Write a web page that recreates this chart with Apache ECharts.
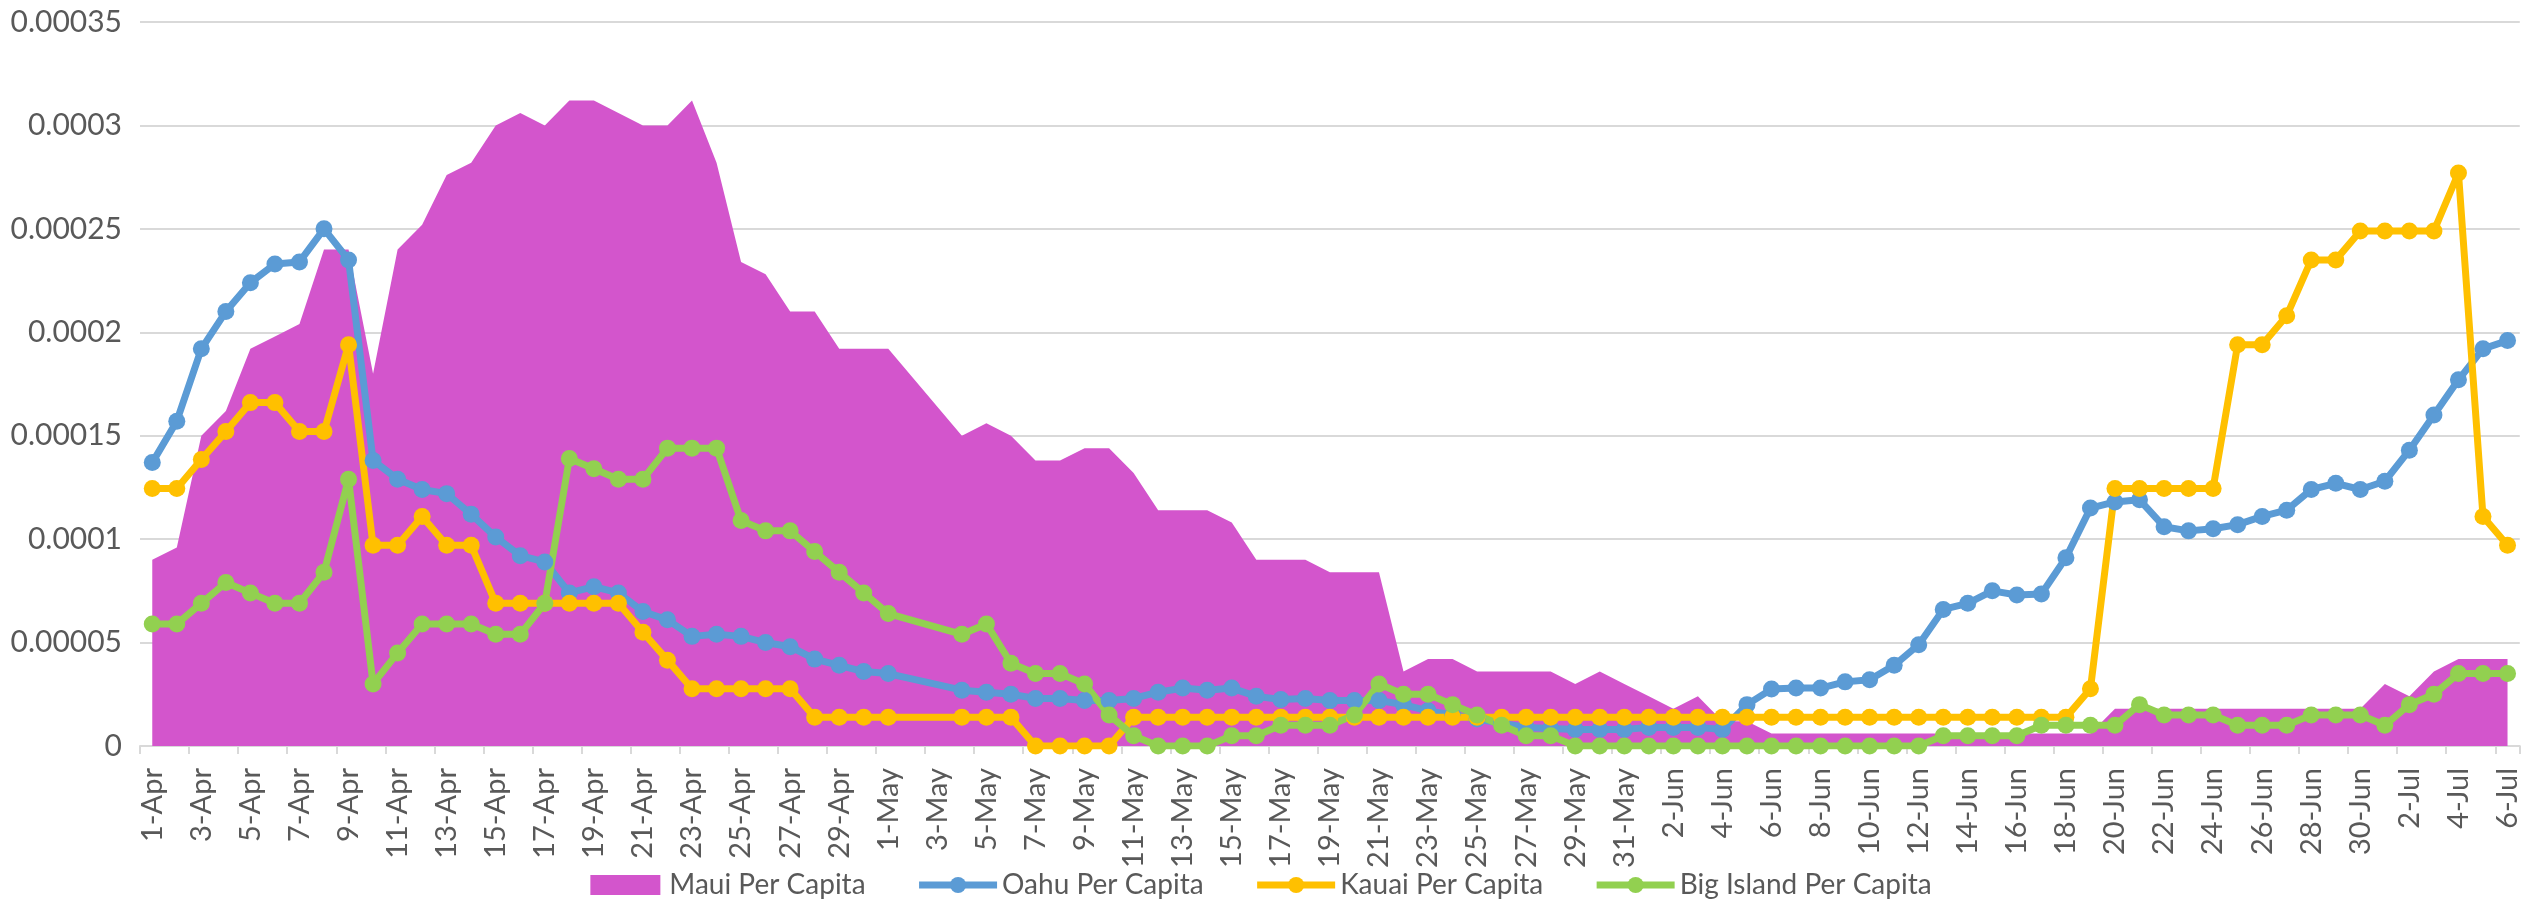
<!DOCTYPE html>
<html><head><meta charset="utf-8">
<script src="https://cdn.jsdelivr.net/npm/echarts@6/dist/echarts.min.js"></script>
<style>html,body{margin:0;padding:0;background:#fff}#c{width:2522px;height:900px}</style>
</head><body><div id="c"></div><script>
const categories = [
'1-Apr','2-Apr','3-Apr','4-Apr','5-Apr','6-Apr','7-Apr','8-Apr','9-Apr','10-Apr',
'11-Apr','12-Apr','13-Apr','14-Apr','15-Apr','16-Apr','17-Apr','18-Apr','19-Apr','20-Apr',
'21-Apr','22-Apr','23-Apr','24-Apr','25-Apr','26-Apr','27-Apr','28-Apr','29-Apr','30-Apr',
'1-May','2-May','3-May','4-May','5-May','6-May','7-May','8-May','9-May','10-May',
'11-May','12-May','13-May','14-May','15-May','16-May','17-May','18-May','19-May','20-May',
'21-May','22-May','23-May','24-May','25-May','26-May','27-May','28-May','29-May','30-May',
'31-May','1-Jun','2-Jun','3-Jun','4-Jun','5-Jun','6-Jun','7-Jun','8-Jun','9-Jun',
'10-Jun','11-Jun','12-Jun','13-Jun','14-Jun','15-Jun','16-Jun','17-Jun','18-Jun','19-Jun',
'20-Jun','21-Jun','22-Jun','23-Jun','24-Jun','25-Jun','26-Jun','27-Jun','28-Jun','29-Jun',
'30-Jun','1-Jul','2-Jul','3-Jul','4-Jul','5-Jul','6-Jul'
];
const yTickLabels = ['0','0.00005','0.0001','0.00015','0.0002','0.00025','0.0003','0.00035'];
const seriesNames = ['Maui Per Capita','Oahu Per Capita','Kauai Per Capita','Big Island Per Capita'];

const mauiPerCapita = [
9.0e-5,9.6e-5,15.0e-5,16.2e-5,19.2e-5,19.8e-5,20.4e-5,24.0e-5,24.0e-5,18.0e-5,
24.0e-5,25.2e-5,27.6e-5,28.2e-5,30.0e-5,30.6e-5,30.0e-5,31.2e-5,31.2e-5,30.6e-5,
30.0e-5,30.0e-5,31.2e-5,28.2e-5,23.4e-5,22.8e-5,21.0e-5,21.0e-5,19.2e-5,19.2e-5,
19.2e-5,null,null,15.0e-5,15.6e-5,15.0e-5,13.8e-5,13.8e-5,14.4e-5,14.4e-5,
13.2e-5,11.4e-5,11.4e-5,11.4e-5,10.8e-5,9.0e-5,9.0e-5,9.0e-5,8.4e-5,8.4e-5,
8.4e-5,3.6e-5,4.2e-5,4.2e-5,3.6e-5,3.6e-5,3.6e-5,3.6e-5,3.0e-5,3.6e-5,
3.0e-5,2.4e-5,1.8e-5,2.4e-5,1.2e-5,1.2e-5,0.6e-5,0.6e-5,0.6e-5,0.6e-5,
0.6e-5,0.6e-5,0.6e-5,0.6e-5,0.6e-5,0.6e-5,0.6e-5,0.6e-5,0.6e-5,0.6e-5,
1.8e-5,1.8e-5,1.8e-5,1.8e-5,1.8e-5,1.8e-5,1.8e-5,1.8e-5,1.8e-5,1.8e-5,
1.8e-5,3.0e-5,2.4e-5,3.6e-5,4.2e-5,4.2e-5,4.2e-5
];
const oahuPerCapita = [
13.7e-5,15.7e-5,19.2e-5,21.0e-5,22.4e-5,23.3e-5,23.4e-5,25.0e-5,23.5e-5,13.8e-5,
12.9e-5,12.4e-5,12.2e-5,11.2e-5,10.1e-5,9.2e-5,8.9e-5,7.4e-5,7.7e-5,7.4e-5,
6.5e-5,6.1e-5,5.3e-5,5.4e-5,5.3e-5,5.0e-5,4.8e-5,4.2e-5,3.9e-5,3.6e-5,
3.5e-5,null,null,2.7e-5,2.6e-5,2.5e-5,2.3e-5,2.3e-5,2.2e-5,2.2e-5,
2.3e-5,2.6e-5,2.8e-5,2.7e-5,2.8e-5,2.4e-5,2.25e-5,2.3e-5,2.2e-5,2.2e-5,
2.2e-5,2.0e-5,1.7e-5,1.5e-5,1.3e-5,1.1e-5,0.9e-5,0.85e-5,0.8e-5,0.8e-5,
0.8e-5,0.9e-5,0.9e-5,0.9e-5,0.8e-5,2.0e-5,2.75e-5,2.8e-5,2.8e-5,3.1e-5,
3.2e-5,3.9e-5,4.9e-5,6.6e-5,6.9e-5,7.5e-5,7.3e-5,7.35e-5,9.1e-5,11.5e-5,
11.8e-5,11.9e-5,10.6e-5,10.4e-5,10.5e-5,10.7e-5,11.1e-5,11.4e-5,12.4e-5,12.7e-5,
12.4e-5,12.8e-5,14.3e-5,16.0e-5,17.7e-5,19.2e-5,19.6e-5
];
const kauaiPerCapita = [
12.45e-5,12.45e-5,13.85e-5,15.2e-5,16.6e-5,16.6e-5,15.2e-5,15.2e-5,19.4e-5,9.7e-5,
9.7e-5,11.1e-5,9.7e-5,9.7e-5,6.9e-5,6.9e-5,6.9e-5,6.9e-5,6.9e-5,6.9e-5,
5.5e-5,4.15e-5,2.77e-5,2.77e-5,2.77e-5,2.77e-5,2.77e-5,1.385e-5,1.385e-5,1.385e-5,
1.385e-5,null,null,1.385e-5,1.385e-5,1.385e-5,0,0,0,0,
1.385e-5,1.385e-5,1.385e-5,1.385e-5,1.385e-5,1.385e-5,1.385e-5,1.385e-5,1.385e-5,1.385e-5,
1.385e-5,1.385e-5,1.385e-5,1.385e-5,1.385e-5,1.385e-5,1.385e-5,1.385e-5,1.385e-5,1.385e-5,
1.385e-5,1.385e-5,1.385e-5,1.385e-5,1.385e-5,1.385e-5,1.385e-5,1.385e-5,1.385e-5,1.385e-5,
1.385e-5,1.385e-5,1.385e-5,1.385e-5,1.385e-5,1.385e-5,1.385e-5,1.385e-5,1.385e-5,2.77e-5,
12.45e-5,12.45e-5,12.45e-5,12.45e-5,12.45e-5,19.4e-5,19.4e-5,20.8e-5,23.5e-5,23.5e-5,
24.9e-5,24.9e-5,24.9e-5,24.9e-5,27.7e-5,11.1e-5,9.7e-5
];
const bigIslandPerCapita = [
5.9e-5,5.9e-5,6.9e-5,7.9e-5,7.4e-5,6.9e-5,6.9e-5,8.4e-5,12.9e-5,3.0e-5,
4.5e-5,5.9e-5,5.9e-5,5.9e-5,5.4e-5,5.4e-5,6.9e-5,13.9e-5,13.4e-5,12.9e-5,
12.9e-5,14.4e-5,14.4e-5,14.4e-5,10.9e-5,10.4e-5,10.4e-5,9.4e-5,8.4e-5,7.4e-5,
6.4e-5,null,null,5.4e-5,5.9e-5,4.0e-5,3.5e-5,3.5e-5,3.0e-5,1.5e-5,
0.5e-5,0,0,0,0.5e-5,0.5e-5,1.0e-5,1.0e-5,1.0e-5,1.5e-5,
3.0e-5,2.5e-5,2.5e-5,2.0e-5,1.5e-5,1.0e-5,0.5e-5,0.5e-5,0,0,
0,0,0,0,0,0,0,0,0,0,
0,0,0,0.5e-5,0.5e-5,0.5e-5,0.5e-5,1.0e-5,1.0e-5,1.0e-5,
1.0e-5,2.0e-5,1.5e-5,1.5e-5,1.5e-5,1.0e-5,1.0e-5,1.0e-5,1.5e-5,1.5e-5,
1.5e-5,1.0e-5,2.0e-5,2.5e-5,3.5e-5,3.5e-5,3.5e-5
];

const FONT = 'Lato, "Open Sans", sans-serif';
const TXT = '#595959';
const GRID = '#D9D9D9';
const C_MAUI = '#D355CC', C_OAHU = '#5B9BD5', C_KAUAI = '#FFC000', C_BIG = '#92D050';

function lineSeries(name, data, color) {
  return {
    name, type: 'line', data, connectNulls: true,
    symbol: 'circle', symbolSize: 17, showSymbol: true, showAllSymbol: true,
    itemStyle: { color: color },
    lineStyle: { color: color, width: 7 },
    emphasis: { disabled: true }
  };
}

const chart = echarts.init(document.getElementById('c'), null, { renderer: 'canvas' });
chart.setOption({
  animation: false,
  backgroundColor: '#ffffff',
  textStyle: { fontFamily: FONT },
  grid: { left: 140, right: -3, top: 22, bottom: 154, containLabel: false },
  legend: {
    data: [
      { name: seriesNames[0], icon: 'path://M0,0H70V20H0Z' },
      seriesNames[1], seriesNames[2], seriesNames[3]
    ],
    left: 'center', top: 866,
    itemWidth: 78, itemHeight: 20, itemGap: 50,
    lineStyle: { width: 7 },
    textStyle: { fontSize: 28, color: TXT, fontFamily: FONT }
  },
  xAxis: {
    type: 'category', data: categories, boundaryGap: true,
    axisLine: { show: true, lineStyle: { color: GRID, width: 2 } },
    axisTick: { show: true, interval: 1, length: 8, lineStyle: { color: GRID, width: 2 } },
    axisLabel: { interval: 1, rotate: 90, margin: 22, fontSize: 29, color: TXT, fontFamily: FONT },
    splitLine: { show: false }
  },
  yAxis: {
    type: 'value', min: 0, max: 0.00035, interval: 0.00005,
    axisLine: { show: false }, axisTick: { show: false },
    axisLabel: {
      fontSize: 30, color: TXT, fontFamily: FONT, margin: 18,
      formatter: v => yTickLabels[Math.round(v / 0.00005)]
    },
    splitLine: { lineStyle: { color: GRID, width: 2 } }
  },
  series: [
    {
      name: seriesNames[0], type: 'line', data: mauiPerCapita, connectNulls: true,
      symbol: 'none', showSymbol: false,
      itemStyle: { color: C_MAUI },
      lineStyle: { width: 0, color: C_MAUI },
      areaStyle: { color: C_MAUI, opacity: 1 },
      emphasis: { disabled: true }
    },
    lineSeries(seriesNames[1], oahuPerCapita, C_OAHU),
    lineSeries(seriesNames[2], kauaiPerCapita, C_KAUAI),
    lineSeries(seriesNames[3], bigIslandPerCapita, C_BIG)
  ]
});
</script></body></html>
